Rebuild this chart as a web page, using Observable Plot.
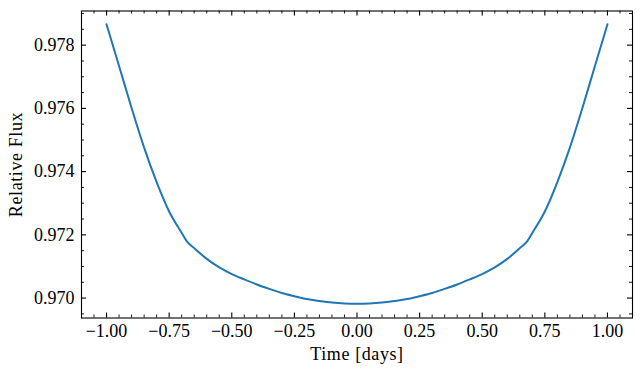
<!DOCTYPE html>
<html>
<head>
<meta charset="utf-8">
<script src="https://cdn.jsdelivr.net/npm/d3@7"></script>
<script src="https://cdn.jsdelivr.net/npm/@observablehq/plot@0.6"></script>
<style>
  body { margin: 0; background: #fff; }
  #chart svg { display: block; }
  #chart svg text { font-family: "Liberation Serif", "Times New Roman", serif; font-size: 18px; }
</style>
</head>
<body>
<div id="chart"></div>
<script>
// Transit light curve: time from mid-transit (days) and relative flux
const time = [
  -1.00, -0.95, -0.90, -0.85, -0.80, -0.75, -0.70, -0.68, -0.65, -0.60,
  -0.55, -0.50, -0.45, -0.40, -0.35, -0.30, -0.25, -0.20, -0.15, -0.10,
  -0.05, 0.00, 0.05, 0.10, 0.15, 0.20, 0.25, 0.30, 0.35, 0.40,
  0.45, 0.50, 0.55, 0.60, 0.65, 0.68, 0.70, 0.75, 0.80, 0.85,
  0.90, 0.95, 1.00
];
const flux = [
  0.97866, 0.97734, 0.97601, 0.97476, 0.97367, 0.97274, 0.97206, 0.97180, 0.97158, 0.97124,
  0.97097, 0.97076, 0.97059, 0.97043, 0.97029, 0.97016, 0.97006, 0.96997, 0.96991, 0.96986,
  0.96983, 0.96982, 0.96983, 0.96986, 0.96991, 0.96997, 0.97006, 0.97016, 0.97029, 0.97043,
  0.97059, 0.97076, 0.97097, 0.97124, 0.97158, 0.97180, 0.97206, 0.97274, 0.97367, 0.97476,
  0.97601, 0.97734, 0.97866
];

const xMajorTicks = [-1, -0.75, -0.5, -0.25, 0, 0.25, 0.5, 0.75, 1];
const xTickLabels = ["−1.00", "−0.75", "−0.50", "−0.25", "0.00", "0.25", "0.50", "0.75", "1.00"];
const xMinorTicks = [
  -1.05, -0.95, -0.90, -0.85, -0.80, -0.70, -0.65, -0.60, -0.55, -0.45, -0.40, -0.35,
  -0.30, -0.20, -0.15, -0.10, -0.05, 0.05, 0.10, 0.15, 0.20, 0.30, 0.35, 0.40,
  0.45, 0.55, 0.60, 0.65, 0.70, 0.80, 0.85, 0.90, 0.95, 1.05
];
const yMajorTicks = [0.970, 0.972, 0.974, 0.976, 0.978];
const yTickLabels = ["0.970", "0.972", "0.974", "0.976", "0.978"];
const yMinorTicks = [
  0.9695, 0.9705, 0.9710, 0.9715, 0.9725, 0.9730, 0.9735, 0.9745,
  0.9750, 0.9755, 0.9765, 0.9770, 0.9775, 0.9785, 0.9790
];

const xLabel = "Time [days]";
const yLabel = "Relative Flux";

const rows = time.map((t, i) => ({time: t, flux: flux[i]}));
const xTickRows = xMajorTicks.map((v, i) => ({v, label: xTickLabels[i]}));
const yTickRows = yMajorTicks.map((v, i) => ({v, label: yTickLabels[i]}));

const W = 641, H = 375;
const mL = 81, mR = 9, mT = 10.5, mB = 57.5;
const innerW = W - mL - mR, innerH = H - mT - mB;
const major = 5, minor = 3;

const chart = Plot.plot({
  width: W,
  height: H,
  marginLeft: mL,
  marginRight: mR,
  marginTop: mT,
  marginBottom: mB,
  style: {background: "#fff", color: "#000"},
  x: {domain: [-1.1, 1.1], axis: null},
  y: {domain: [0.96937, 0.97908], axis: null},
  marks: [
    Plot.line(rows, {x: "time", y: "flux", stroke: "#1f77b4", strokeWidth: 2, curve: "monotone-x"}),
    // inward ticks on all four sides
    Plot.tickX(xMajorTicks, {x: d => d, insetTop: innerH - major, stroke: "#000", strokeWidth: 1.1}),
    Plot.tickX(xMajorTicks, {x: d => d, insetBottom: innerH - major, stroke: "#000", strokeWidth: 1.1}),
    Plot.tickX(xMinorTicks, {x: d => d, insetTop: innerH - minor, stroke: "#000", strokeWidth: 0.9}),
    Plot.tickX(xMinorTicks, {x: d => d, insetBottom: innerH - minor, stroke: "#000", strokeWidth: 0.9}),
    Plot.tickY(yMajorTicks, {y: d => d, insetRight: innerW - major, stroke: "#000", strokeWidth: 1.1}),
    Plot.tickY(yMajorTicks, {y: d => d, insetLeft: innerW - major, stroke: "#000", strokeWidth: 1.1}),
    Plot.tickY(yMinorTicks, {y: d => d, insetRight: innerW - minor, stroke: "#000", strokeWidth: 0.9}),
    Plot.tickY(yMinorTicks, {y: d => d, insetLeft: innerW - minor, stroke: "#000", strokeWidth: 0.9}),
    Plot.frame({stroke: "#000", strokeWidth: 1.1}),
    // tick labels
    Plot.text(xTickRows, {x: "v", text: "label", frameAnchor: "bottom", dy: 13, textAnchor: "middle", lineAnchor: "middle", fill: "#000"}),
    Plot.text(yTickRows, {y: "v", text: "label", frameAnchor: "left", dx: -7, textAnchor: "end", lineAnchor: "middle", fill: "#000"}),
    // axis titles
    Plot.text([xLabel], {frameAnchor: "bottom", dy: 36.5, textAnchor: "middle", lineAnchor: "middle", fill: "#000"}),
    Plot.text([yLabel], {frameAnchor: "left", dx: -65, rotate: -90, textAnchor: "middle", lineAnchor: "middle", fill: "#000"})
  ]
});

// a touch of tracking on the axis titles
chart.querySelectorAll("text").forEach(t => {
  if (t.textContent === xLabel || t.textContent === yLabel) t.setAttribute("letter-spacing", "0.6");
});

document.getElementById("chart").append(chart);
</script>
</body>
</html>
